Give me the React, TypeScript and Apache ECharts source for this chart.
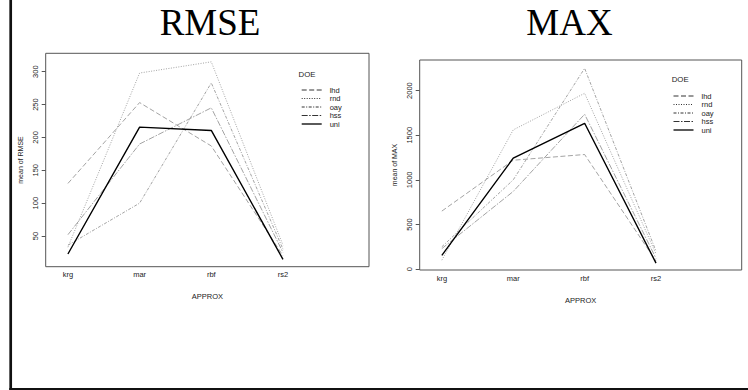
import React, { useEffect, useRef } from 'react';
import * as echarts from 'echarts';

const categories = ['krg', 'mar', 'rbf', 'rs2'];
const doeNames = ['lhd', 'rnd', 'oay', 'hss', 'uni'];

const rmseLhd = [130, 253, 187, 20];
const rmseRnd = [33, 298, 315, 36];
const rmseOay = [36, 100, 283, 30];
const rmseHss = [52, 190, 245, 25];
const rmseUni = [22.6, 215.7, 210.6, 14.5];

const maxLhd = [650, 1220, 1284, 90];
const maxRnd = [100, 1560, 1970, 170];
const maxOay = [250, 1000, 2250, 200];
const maxHss = [230, 870, 1735, 120];
const maxUni = [153, 1243, 1634, 67];

const rmseTicks = [50, 100, 150, 200, 250, 300];
const maxTicks = [0, 500, 1000, 1500, 2000];
const xTicks = [1, 2, 3, 4];

const panelTitles = ['RMSE', 'MAX'];
const yNames = ['mean of RMSE', 'mean of MAX'];
const xName = 'APPROX';
const legendTitle = 'DOE';

const rmseSeries = [rmseLhd, rmseRnd, rmseOay, rmseHss, rmseUni];
const maxSeries = [maxLhd, maxRnd, maxOay, maxHss, maxUni];

const dashes: (number[] | 'solid')[] = [[5, 2.5], [1, 1.5], [3, 1.5, 1, 1.5], [6, 1.5, 1.5, 1.5], 'solid'];
const SANS = 'Liberation Sans, Arial, Helvetica, sans-serif';

function buildSeries(sets: number[][], axisIndex: number) {
  return sets.map((vals, k) => ({
    type: 'line',
    name: doeNames[k],
    xAxisIndex: axisIndex,
    yAxisIndex: axisIndex,
    data: vals.map((v, i) => [xTicks[i], v]),
    symbol: 'none',
    silent: true,
    z: k === 4 ? 5 : 2,
    lineStyle: {
      color: k === 4 ? '#000' : '#8c8c8c',
      width: k === 4 ? 1.4 : 0.8,
      type: dashes[k],
    },
  }));
}

function legendGraphic(x0: number, y0: number, titleY: number, titleX: number, step: number) {
  const els: any[] = [
    {
      type: 'text',
      x: titleX,
      y: titleY,
      style: { text: legendTitle, font: `7.8px ${SANS}`, fill: '#222', textVerticalAlign: 'middle' },
    },
  ];
  doeNames.forEach((n, k) => {
    const y = y0 + k * step;
    els.push({
      type: 'line',
      shape: { x1: x0, y1: y, x2: x0 + 20, y2: y },
      style: {
        stroke: k === 4 ? '#000' : '#333',
        lineWidth: k === 4 ? 1.3 : 1,
        lineDash: dashes[k] === 'solid' ? null : dashes[k],
      },
    });
    els.push({
      type: 'text',
      x: x0 + 28,
      y: y,
      style: { text: n, font: `7.5px ${SANS}`, fill: '#222', textVerticalAlign: 'middle' },
    });
  });
  return els;
}

export default function App() {
  const ref = useRef<HTMLDivElement>(null);
  useEffect(() => {
    if (!ref.current) return;
    const chart = echarts.init(ref.current, null, { renderer: 'svg' });
    const yRanges = [
      { min: 3.3, max: 328, ticks: rmseTicks },
      { min: -10, max: 2343, ticks: maxTicks },
    ];
    const option: any = {
      animation: false,
      textStyle: { fontFamily: SANS },
      grid: [
        { left: 45.7, top: 53.3, width: 323.3, height: 213.4, show: true, borderColor: '#555', borderWidth: 1, backgroundColor: 'transparent' },
        { left: 419.7, top: 60, width: 322, height: 210, show: true, borderColor: '#555', borderWidth: 1, backgroundColor: 'transparent' },
      ],
      xAxis: [0, 1].map((i) => ({
        type: 'value',
        gridIndex: i,
        min: 0.69,
        max: 5.2,
        name: xName,
        nameLocation: 'middle',
        nameGap: 26,
        nameTextStyle: { fontSize: 7.5, color: '#222', fontFamily: SANS },
        axisLine: { show: false },
        axisTick: { show: false },
        splitLine: { show: false },
        axisLabel: {
          customValues: xTicks,
          formatter: (v: number) => categories[Math.round(v) - 1] ?? '',
          fontSize: 7.5,
          color: '#222',
          margin: 4,
          fontFamily: SANS,
        },
      })),
      yAxis: [0, 1].map((i) => ({
        type: 'value',
        gridIndex: i,
        min: yRanges[i].min,
        max: yRanges[i].max,
        name: yNames[i],
        nameLocation: 'middle',
        nameRotate: 90,
        nameGap: 22,
        nameTextStyle: { fontSize: 7, color: '#222', fontFamily: SANS },
        axisLine: { show: false },
        axisTick: { show: true, length: 4, customValues: yRanges[i].ticks, lineStyle: { color: '#555', width: 1 } },
        splitLine: { show: false },
        axisLabel: {
          customValues: yRanges[i].ticks,
          formatter: (v: number) => String(v),
          rotate: 90,
          fontSize: 7.5,
          color: '#222',
          margin: 6,
          fontFamily: SANS,
        },
      })),
      series: [...buildSeries(rmseSeries, 0), ...buildSeries(maxSeries, 1)],
      graphic: [
        {
          type: 'line',
          shape: { x1: 10.7, y1: 0, x2: 10.7, y2: 390 },
          style: { stroke: '#111', lineWidth: 2.7 },
        },
        {
          type: 'line',
          shape: { x1: 9.3, y1: 389, x2: 748, y2: 389 },
          style: { stroke: '#111', lineWidth: 1.8 },
        },
        {
          type: 'text',
          x: 210,
          y: 22,
          style: { text: panelTitles[0], font: '37px Liberation Serif, Times New Roman, serif', fill: '#000', textAlign: 'center', textVerticalAlign: 'middle' },
        },
        {
          type: 'text',
          x: 569.5,
          y: 22,
          style: { text: panelTitles[1], font: '37px Liberation Serif, Times New Roman, serif', fill: '#000', textAlign: 'center', textVerticalAlign: 'middle' },
        },
        ...legendGraphic(301.7, 90, 74.5, 298.5, 8.5),
        ...legendGraphic(673.5, 96, 79.3, 671.7, 8.5),
      ],
    };
    chart.setOption(option);
    return () => chart.dispose();
  }, []);
  return (
    <div
      ref={ref}
      style={{ position: 'fixed', left: 0, top: 0, width: 748, height: 390, background: '#fff' }}
    />
  );
}
